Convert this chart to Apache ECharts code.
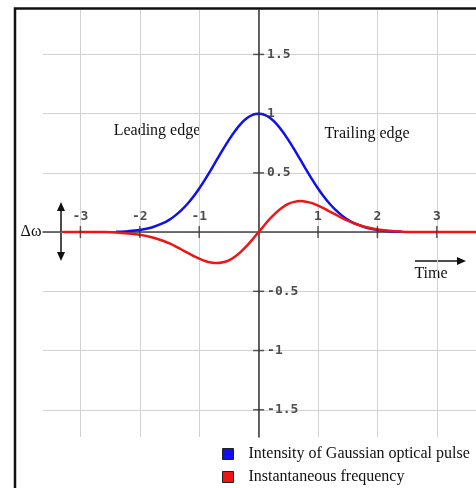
<!DOCTYPE html>
<html>
<head>
<meta charset="utf-8">
<script src="https://cdn.jsdelivr.net/npm/echarts@6/dist/echarts.min.js"></script>
<style>
  html, body { margin: 0; padding: 0; background: #fff; }
  #chart { width: 476px; height: 488px; }
</style>
</head>
<body>
<div id="chart"></div>
<script>
// pulse intensity (blue)
const timeBlue = [-2.4, -2.2, -2.0, -1.8, -1.6, -1.5, -1.4, -1.3, -1.2, -1.1, -1.0, -0.9, -0.8, -0.7, -0.6, -0.5,
  -0.4, -0.3, -0.2, -0.1, 0, 0.1, 0.2, 0.3, 0.4, 0.5, 0.6, 0.7, 0.8, 0.9, 1.0, 1.1, 1.2, 1.3, 1.4, 1.5,
  1.6, 1.8, 2.0, 2.2, 2.4]
const intensity = [0.003, 0.008, 0.018, 0.039, 0.077, 0.105, 0.141, 0.185, 0.237, 0.298, 0.368, 0.445, 0.527, 0.613, 0.698, 0.779,
  0.852, 0.914, 0.961, 0.990, 1, 0.990, 0.961, 0.914, 0.852, 0.779, 0.698, 0.613, 0.527, 0.445, 0.368, 0.298, 0.237, 0.185, 0.141, 0.105,
  0.077, 0.039, 0.018, 0.008, 0.003]

// instantaneous frequency (red)
const timeRed = [-3.3, -3.0, -2.6, -2.4, -2.2, -2.0, -1.8, -1.6, -1.5, -1.4, -1.3, -1.2, -1.1, -1.0, -0.9, -0.8, -0.7, -0.6, -0.5,
  -0.4, -0.3, -0.2, -0.1, 0, 0.1, 0.2, 0.3, 0.4, 0.5, 0.6, 0.7, 0.8, 0.9, 1.0, 1.1, 1.2, 1.3, 1.4, 1.5,
  1.6, 1.8, 2.0, 2.2, 2.4, 2.6, 3.0, 3.7]
const frequency = [0, 0, 0, -0.004, -0.011, -0.022, -0.043, -0.075, -0.096, -0.120, -0.147, -0.173, -0.200, -0.224, -0.244, -0.257, -0.262, -0.255, -0.238,
  -0.208, -0.167, -0.117, -0.060, 0, 0.060, 0.117, 0.167, 0.208, 0.238, 0.255, 0.262, 0.257, 0.244, 0.224, 0.200, 0.173, 0.147, 0.120, 0.096,
  0.075, 0.043, 0.022, 0.011, 0.004, 0, 0, 0]

// axis ticks
const xTicks = [-3, -2, -1, 1, 2, 3]
const yTicks = [-1.5, -1, -0.5, 0.5, 1, 1.5]
const xGrid = [-3, -2, -1, 0, 1, 2, 3]
const yGrid = [-1.5, -1, -0.5, 0, 0.5, 1, 1.5]

const names = ['Intensity of Gaussian optical pulse', 'Instantaneous frequency']

var myChart = echarts.init(document.getElementById('chart'))

const tickFont = {
  fontFamily: 'DejaVu Sans Mono',
  fontWeight: 'bold',
  fontSize: 13,
  color: '#222'
}
const serif = 'Liberation Serif'

let option = {
  animation: false,
  backgroundColor: '#fff',
  grid: {
    left: 43,
    right: 0,
    top: 10,
    bottom: 51
  },
  xAxis: {
    type: 'value',
    min: -3.63,
    max: 3.66,
    axisLine: { onZero: true, lineStyle: { color: '#444', width: 1.5 } },
    axisTick: { show: false, customValues: xGrid },
    axisLabel: { show: false },
    splitLine: { show: true, lineStyle: { color: '#d2d2d2', width: 1 } }
  },
  yAxis: {
    type: 'value',
    min: -1.73,
    max: 1.875,
    axisLine: { onZero: true, lineStyle: { color: '#333', width: 1.5 } },
    axisTick: { show: false, customValues: yGrid },
    axisLabel: { show: false },
    splitLine: { show: true, lineStyle: { color: '#d2d2d2', width: 1 } }
  },
  legend: {
    orient: 'vertical',
    left: 222,
    top: 446,
    padding: 0,
    itemWidth: 11,
    itemHeight: 11,
    itemGap: 7,
    icon: 'rect',
    data: names,
    itemStyle: { borderColor: '#222', borderWidth: 1 },
    textStyle: { fontFamily: serif, fontSize: 16, color: '#111', padding: [0, 0, 0, 10] }
  },
  series: [
    {
      name: names[0],
      type: 'line',
      smooth: 0.3,
      showSymbol: false,
      lineStyle: { color: '#1010ee', width: 2.5 },
      itemStyle: { color: '#1010ee' },
      data: timeBlue.map((t, i) => [t, intensity[i]]),
      z: 3
    },
    {
      name: names[1],
      type: 'line',
      smooth: 0.3,
      showSymbol: false,
      lineStyle: { color: '#ee1515', width: 2.5 },
      itemStyle: { color: '#ee1515' },
      data: timeRed.map((t, i) => [t, frequency[i]]),
      z: 4
    },
    {
      // tick marks crossing the x axis, labels above
      type: 'scatter',
      silent: true,
      symbol: 'rect',
      symbolSize: [1.5, 12],
      itemStyle: { color: '#333' },
      label: {
        show: true,
        position: 'top',
        distance: 3,
        formatter: p => String(p.value[0]),
        ...tickFont
      },
      data: xTicks.map(v => [v, 0]),
      z: 5
    },
    {
      // tick marks crossing the y axis, labels to the right
      type: 'scatter',
      silent: true,
      symbol: 'rect',
      symbolSize: [11, 1.5],
      itemStyle: { color: '#333' },
      label: {
        show: true,
        position: 'right',
        distance: 3,
        formatter: p => String(p.value[1]),
        ...tickFont
      },
      data: yTicks.map(v => [0, v]),
      z: 5
    }
  ],
  graphic: [
    // outer frame
    {
      type: 'rect',
      shape: { x: 15, y: 8.5, width: 520, height: 520 },
      style: { fill: 'none', stroke: '#111', lineWidth: 2.5 },
      z: 10
    },
    { type: 'text', x: 157, y: 131, style: { text: 'Leading edge', fontFamily: serif, fontSize: 16, fill: '#111', align: 'center', verticalAlign: 'middle' } },
    { type: 'text', x: 367, y: 134, style: { text: 'Trailing edge', fontFamily: serif, fontSize: 16, fill: '#111', align: 'center', verticalAlign: 'middle' } },
    { type: 'text', x: 31, y: 232, style: { text: 'Δω', fontFamily: serif, fontSize: 16, fill: '#111', align: 'center', verticalAlign: 'middle' } },
    { type: 'text', x: 431, y: 274, style: { text: 'Time', fontFamily: serif, fontSize: 16, fill: '#111', align: 'center', verticalAlign: 'middle' } },
    // Δω double arrow
    { type: 'line', shape: { x1: 61, y1: 208, x2: 61, y2: 255 }, style: { stroke: '#111', lineWidth: 1.5 } },
    { type: 'polygon', shape: { points: [[61, 202], [57, 211], [65, 211]] }, style: { fill: '#111' } },
    { type: 'polygon', shape: { points: [[61, 261], [57, 252], [65, 252]] }, style: { fill: '#111' } },
    // time arrow
    { type: 'line', shape: { x1: 415, y1: 261, x2: 460, y2: 261 }, style: { stroke: '#111', lineWidth: 1.5 } },
    { type: 'polygon', shape: { points: [[466, 261], [457, 257], [457, 265]] }, style: { fill: '#111' } }
  ]
}

myChart.setOption(option)
</script>
</body>
</html>
